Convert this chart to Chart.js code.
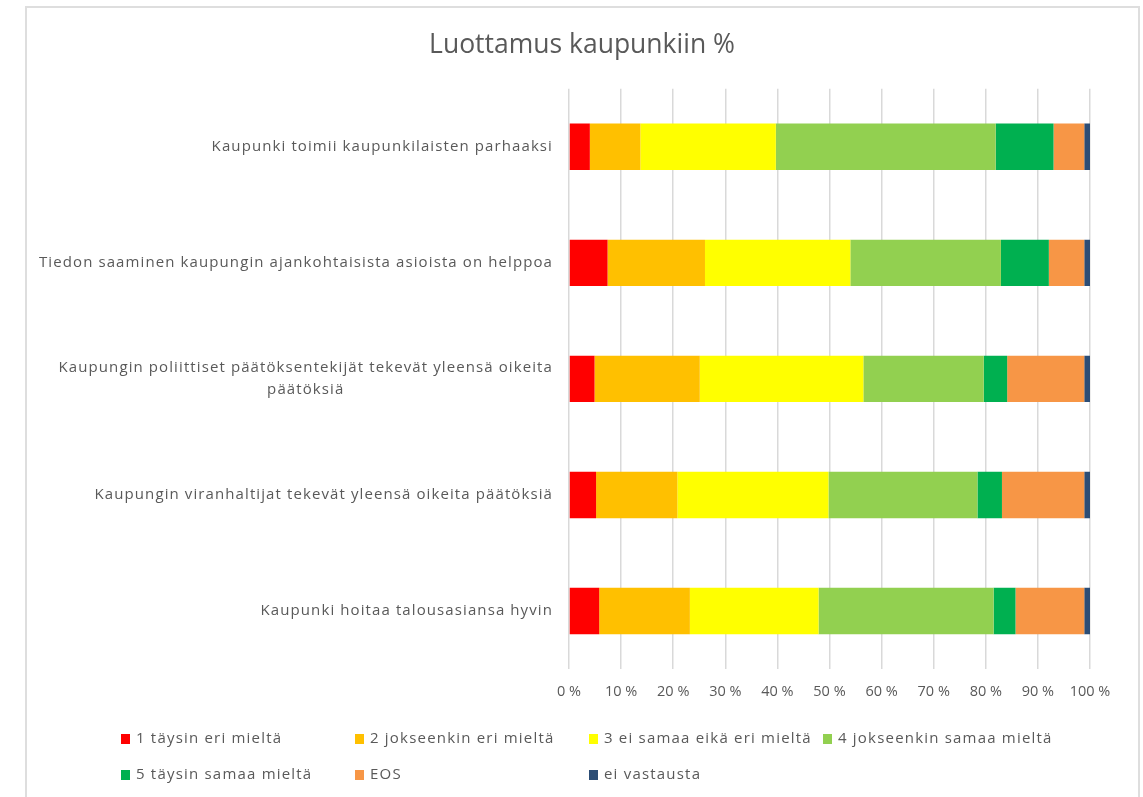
<!DOCTYPE html>
<html>
<head>
<meta charset="utf-8">
<script src="https://cdn.jsdelivr.net/npm/chart.js@4/dist/chart.umd.min.js"></script>
<style>
  html, body { margin: 0; padding: 0; background: #fff; }
  #wrap { position: relative; width: 1143px; height: 797px; overflow: hidden; }
  #frame { position: absolute; left: 25px; top: 6px; width: 1111px; height: 800px; border: 2px solid #dedede; pointer-events: none; }
  canvas { position: absolute; left: 0; top: 0; }
  .lg { position: absolute; font-family: "Open Sans", sans-serif; font-size: 15px; letter-spacing: 1.2px; color: #595959; white-space: nowrap; line-height: 20px; }
  .lg i { display: inline-block; width: 9px; height: 10px; margin-right: 6px; vertical-align: -1px; }
</style>
</head>
<body>
<div id="wrap">
  <canvas id="c" width="1143" height="797"></canvas>
  <div id="frame"></div>
  <div id="legend"></div>
</div>
<script>
const title = 'Luottamus kaupunkiin %';
const categories = [
  ['Kaupunki toimii kaupunkilaisten parhaaksi'],
  ['Tiedon saaminen kaupungin ajankohtaisista asioista on helppoa'],
  ['Kaupungin poliittiset päätöksentekijät tekevät yleensä oikeita', 'päätöksiä'],
  ['Kaupungin viranhaltijat tekevät yleensä oikeita päätöksiä'],
  ['Kaupunki hoitaa talousasiansa hyvin']
];
const seriesNames = ['1 täysin eri mieltä', '2 jokseenkin eri mieltä', '3 ei samaa eikä eri mieltä', '4 jokseenkin samaa mieltä', '5 täysin samaa mieltä', 'EOS', 'ei vastausta'];
const s1 = [4.0, 7.4, 4.9, 5.2, 5.8];
const s2 = [9.7, 18.7, 20.2, 15.6, 17.4];
const s3 = [26.0, 27.9, 31.4, 29.0, 24.7];
const s4 = [42.2, 28.9, 23.1, 28.6, 33.6];
const s5 = [11.1, 9.2, 4.5, 4.7, 4.2];
const sEOS = [5.9, 6.8, 14.8, 15.8, 13.2];
const sEV = [1.1, 1.1, 1.1, 1.1, 1.1];
const xTickLabels = ['0 %', '10 %', '20 %', '30 %', '40 %', '50 %', '60 %', '70 %', '80 %', '90 %', '100 %'];
const colors = ['#FF0000', '#FFC000', '#FFFF00', '#92D050', '#00B050', '#F79646', '#2C4D75'];
const seriesData = [s1, s2, s3, s4, s5, sEOS, sEV];

const TXT = '#595959';
const FONT = '"Open Sans", sans-serif';

const yLabelPlugin = {
  id: 'yLabels',
  afterDraw(chart) {
    const ctx = chart.ctx;
    const sc = chart.scales.y;
    ctx.save();
    ctx.font = '15px ' + FONT;
    ctx.letterSpacing = '1.1px';
    ctx.fillStyle = TXT;
    ctx.textAlign = 'center';
    ctx.textBaseline = 'middle';
    const right = sc.right - 16;
    const lh = 22;
    categories.forEach((lines, i) => {
      const y = sc.getPixelForTick(i);
      const w = Math.max(...lines.map(l => ctx.measureText(l).width));
      const cx = right - w / 2;
      const y0 = y - (lines.length - 1) * lh / 2;
      lines.forEach((l, k) => ctx.fillText(l, cx, y0 + k * lh));
    });
    ctx.restore();
  }
};

new Chart(document.getElementById('c'), {
  type: 'bar',
  data: {
    labels: categories.map(c => c.join(' ')),
    datasets: seriesData.map((d, i) => ({
      label: seriesNames[i],
      data: d,
      backgroundColor: colors[i],
      borderWidth: 0,
      barPercentage: 0.4,
      categoryPercentage: 1.0
    }))
  },
  options: {
    indexAxis: 'y',
    responsive: false,
    animation: false,
    layout: { padding: { left: 74, right: 53, top: 6, bottom: 0 } },
    plugins: {
      legend: { display: false },
      tooltip: { enabled: false },
      title: {
        display: true,
        text: title,
        color: TXT,
        font: { family: FONT, size: 26.5, weight: 'normal', lineHeight: 1.2 },
        padding: { top: 24, bottom: 27 }
      }
    },
    scales: {
      x: {
        stacked: true,
        min: 0, max: 100,
        ticks: {
          stepSize: 10,
          color: TXT,
          font: { family: FONT, size: 14.5 },
          padding: 14,
          callback: (v, i) => xTickLabels[i]
        },
        grid: { color: '#d9d9d9', lineWidth: 1.5, drawTicks: false },
        border: { display: false },
        afterFit(s) { s.height = 128; }
      },
      y: {
        stacked: true,
        ticks: { display: false },
        grid: { display: false },
        border: { display: false },
        afterFit(s) { s.width = 495; }
      }
    }
  },
  plugins: [yLabelPlugin]
});

// legend
const lg = document.getElementById('legend');
seriesNames.forEach((n, i) => {
  const col = i % 4, row = Math.floor(i / 4);
  const d = document.createElement('div');
  d.className = 'lg';
  d.style.left = (121 + col * 234) + 'px';
  d.style.top = (727 + row * 36) + 'px';
  d.innerHTML = '<i style="background:' + colors[i] + '"></i>';
  d.appendChild(document.createTextNode(n));
  lg.appendChild(d);
});
</script>
</body>
</html>
